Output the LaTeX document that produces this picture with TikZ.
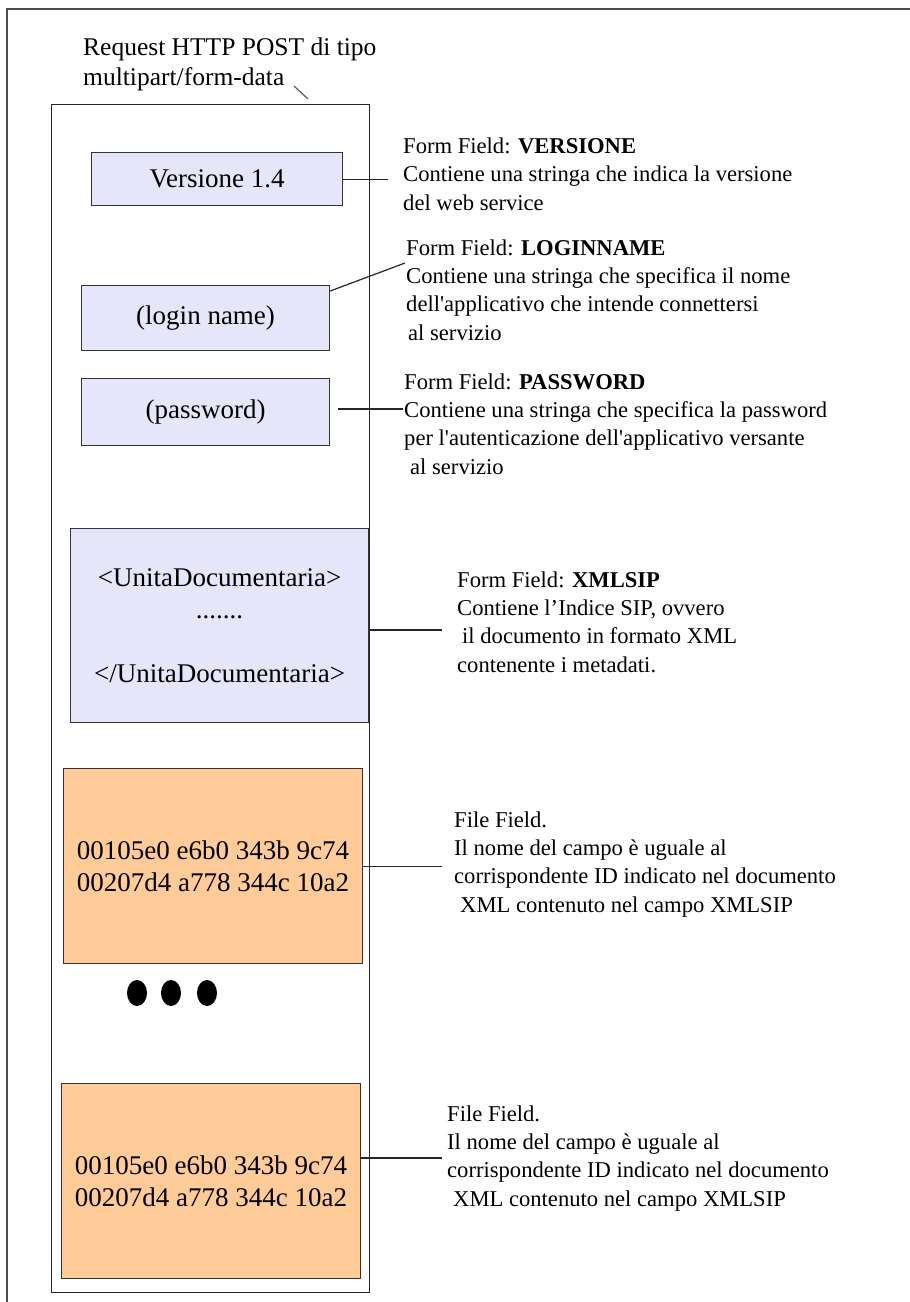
\documentclass[tikz,border=0pt]{standalone}
\usepackage{fontspec}
\setmainfont{Liberation Serif}
\definecolor{lav}{HTML}{E6E6FA}
\definecolor{peach}{HTML}{FFCC99}
\newcommand\boxfont{\fontsize{27}{32}\selectfont}
\newcommand\lblfont{\fontsize{22.6}{28.2}\selectfont}
\newcommand\ttlfont{\fontsize{25.5}{30}\selectfont}
\begin{document}
\begin{tikzpicture}[x=1pt,y=-1pt,
  box/.style={draw=black!80, line width=1.2pt, anchor=north west, inner sep=0pt, align=center, font=\boxfont},
  blu/.style={box, fill=lav},
  org/.style={box, fill=peach},
  lbl/.style={anchor=base west, align=left, inner sep=0pt, font=\lblfont},
  conn/.style={draw=black!85, line width=1.2pt}]
\useasboundingbox[fill=white] (0,0) rectangle (910,1302);
% outer frame
\draw[line width=1.3pt, black!70] (910,9) -- (7,9) -- (7,1302);
% title (anchor at baseline of last line)
\node[anchor=base west, align=left, inner sep=0pt, font=\ttlfont] (title) at (83,85) {Request HTTP POST di tipo\\multipart/form-data};
\coordinate (t1) at (294,86);
\coordinate (t2) at (308,99);
\draw[conn, black!65] (t1) -- (t2);
% container
\node[draw=black!85, line width=1.2pt, anchor=north west, inner sep=0pt, minimum width=318pt, minimum height=1188pt] (cont) at (51,104) {};
% boxes
\node[blu, minimum width=251pt, minimum height=53pt] (vers) at (91,152) {Versione 1.4};
\node[blu, minimum width=248pt, minimum height=65pt] (login) at (81,285) {(login name)};
\node[blu, minimum width=248pt, minimum height=67pt] (pw) at (81,378) {(password)};
\node[blu, minimum width=298pt, minimum height=194pt] (xml) at (70,528) {<UnitaDocumentaria>\\.......\\\mbox{}\\</UnitaDocumentaria>};
\node[org, minimum width=299pt, minimum height=195pt] (hexa) at (63,768) {00105e0 e6b0 343b 9c74\\00207d4 a778 344c 10a2};
\node[org, minimum width=299pt, minimum height=195pt] (hexb) at (61,1083) {00105e0 e6b0 343b 9c74\\00207d4 a778 344c 10a2};
% dots
\fill (137,993) ellipse [x radius=10pt, y radius=13pt];
\fill (171,993) ellipse [x radius=10pt, y radius=13pt];
\fill (207,993) ellipse [x radius=10pt, y radius=13pt];
% labels (anchor at baseline of last line)
\node[lbl] (l1) at (403,210) {Form Field: \textbf{VERSIONE}\\Contiene una stringa che indica la versione\\del web service};
\node[lbl] (l2) at (406,340) {Form Field: \textbf{LOGINNAME}\\Contiene una stringa che specifica il nome\\dell\textquotesingle applicativo che intende connettersi\\\hspace*{2pt}al servizio};
\node[lbl] (l3) at (404,474) {Form Field: \textbf{PASSWORD}\\Contiene una stringa che specifica la password\\per l\textquotesingle autenticazione dell\textquotesingle applicativo versante\\\hspace*{6pt}al servizio};
\node[lbl] (l4) at (457,672) {Form Field: \textbf{XMLSIP}\\Contiene l’Indice SIP, ovvero\\\hspace*{5pt}il documento in formato XML\\contenente i metadati.};
\node[lbl] (l5) at (454,912) {File Field.\\Il nome del campo è uguale al\\corrispondente ID indicato nel documento\\\hspace*{6pt}XML contenuto nel campo XMLSIP};
\node[lbl] (l6) at (447,1206) {File Field.\\Il nome del campo è uguale al\\corrispondente ID indicato nel documento\\\hspace*{6pt}XML contenuto nel campo XMLSIP};
% connectors
\coordinate (c1) at (388,177);
\coordinate (c2) at (405,263);
\coordinate (c3) at (403,409);
\coordinate (c4) at (442,630);
\coordinate (c5) at (442,866);
\coordinate (c6) at (442,1158);
\draw[conn] (vers.east) -- (vers.east -| c1);
\draw[conn] ([yshift=-6pt]login.north east) -- (c2);
\draw[conn] ([xshift=8pt]pw.east |- c3) -- (c3);
\draw[conn] (xml.east |- c4) -- (c4);
\draw[conn] (hexa.east) -- (hexa.east -| c5);
\draw[conn] (hexb.east |- c6) -- (c6);
\end{tikzpicture}
\end{document}
